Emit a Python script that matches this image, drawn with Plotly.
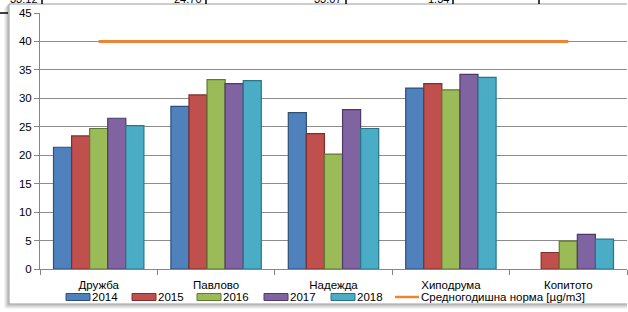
import plotly.graph_objects as go

# ---- data ----
categories = ["Дружба", "Павлово", "Надежда", "Хиподрума", "Копитото"]
years = ["2014", "2015", "2016", "2017", "2018"]
v2014 = [21.4, 28.6, 27.5, 31.8, None]
v2015 = [23.4, 30.6, 23.8, 32.6, 2.9]
v2016 = [24.7, 33.3, 20.2, 31.5, 4.9]
v2017 = [26.5, 32.6, 28.0, 34.2, 6.1]
v2018 = [25.2, 33.1, 24.7, 33.7, 5.25]
norm_name = "Средногодишна норма [µg/m3]"
norm_values = [40, 40, 40, 40, 40]
top_table_texts = ["33.12", "24.70", "33.07", "1.34"]

series = [v2014, v2015, v2016, v2017, v2018]
fill_colors = ["#4F81BD", "#C0504D", "#9BBB59", "#8064A2", "#4BACC6"]
edge_colors = ["#2E4F78", "#7E2E2C", "#5F7A33", "#4D3A68", "#2B7488"]
line_color = "#EE8433"

W, H = 628, 312
ML, MR, MT, MB = 40, 1, 13, 43
PW = W - ML - MR
PH = H - MT - MB


def px2x(px):
    return (px - ML) / PW


def px2y(py):
    return (H - MB - py) / PH


FONT = "Liberation Sans, Arial, sans-serif"

fig = go.Figure()
for name, vals, fc, ec in zip(years, series, fill_colors, edge_colors):
    fig.add_trace(go.Bar(
        x=categories, y=vals, name=name,
        marker=dict(color=fc, line=dict(color=ec, width=1.2)),
        showlegend=False,
    ))
fig.add_trace(go.Scatter(
    x=categories, y=norm_values, name=norm_name, mode="lines",
    line=dict(color=line_color, width=3), showlegend=False,
))

shapes = []
annotations = []


def hline(x0, x1, y, color, width):
    shapes.append(dict(type="line", xref="paper", yref="paper",
                       x0=px2x(x0), x1=px2x(x1), y0=px2y(y), y1=px2y(y),
                       line=dict(color=color, width=width), layer="below"))


def vline(x, y0, y1, color, width):
    shapes.append(dict(type="line", xref="paper", yref="paper",
                       x0=px2x(x), x1=px2x(x), y0=px2y(y0), y1=px2y(y1),
                       line=dict(color=color, width=width), layer="below"))


# chart frame with soft shadow (left and bottom)
for off, col in [(4, "#ececec"), (3, "#dcdcdc"), (2, "#c8c8c8"), (1, "#b0b0b0")]:
    vline(9 - off, 4 + off, 304 + off, col, 1.2)
    hline(9 - off, 627, 304 + off, col, 1.2)
vline(9, 4, 304, "#9a9a9a", 1)
hline(9, 627, 304, "#9a9a9a", 1)
hline(9, 627, 4, "#9a9a9a", 1)

# remnants of a table above the chart
shapes.append(dict(type="line", xref="paper", yref="paper",
                   x0=px2x(0), x1=px2x(8), y0=px2y(13), y1=px2y(13),
                   line=dict(color="#000000", width=1.5)))
table_right_edges = [42, 206, 346, 453, 539]
for xe in table_right_edges:
    shapes.append(dict(type="line", xref="paper", yref="paper",
                       x0=px2x(xe), x1=px2x(xe), y0=px2y(4), y1=px2y(0),
                       line=dict(color="#000000", width=1.5)))
for txt, xe in zip(top_table_texts, table_right_edges[:4]):
    annotations.append(dict(text=txt, xref="paper", yref="paper",
                            x=px2x(xe - 2), y=px2y(-1), xanchor="right", yanchor="middle",
                            showarrow=False, font=dict(family=FONT, size=11, color="#000")))

# manual legend
legend_y = 297
sym_x = [66, 132, 197, 264, 331]
for name, fc, ec, sx in zip(years, fill_colors, edge_colors, sym_x):
    shapes.append(dict(type="rect", xref="paper", yref="paper",
                       x0=px2x(sx), x1=px2x(sx + 24), y0=px2y(legend_y + 3.5), y1=px2y(legend_y - 3.5),
                       fillcolor=fc, line=dict(color=ec, width=1)))
    annotations.append(dict(text=name, xref="paper", yref="paper",
                            x=px2x(sx + 24), y=px2y(legend_y), xanchor="left", yanchor="middle",
                            showarrow=False, font=dict(family=FONT, size=11.5, color="#000")))
shapes.append(dict(type="line", xref="paper", yref="paper",
                   x0=px2x(395), x1=px2x(419), y0=px2y(legend_y), y1=px2y(legend_y),
                   line=dict(color=line_color, width=2.5)))
annotations.append(dict(text=norm_name, xref="paper", yref="paper",
                        x=px2x(419), y=px2y(legend_y), xanchor="left", yanchor="middle",
                        showarrow=False, font=dict(family=FONT, size=11.5, color="#000")))

fig.update_layout(
    width=W, height=H,
    margin=dict(l=ML, r=MR, t=MT, b=MB),
    paper_bgcolor="white", plot_bgcolor="white",
    barmode="group", bargap=0.23, bargroupgap=0,
    font=dict(family=FONT, size=11, color="#000"),
    shapes=shapes, annotations=annotations,
    showlegend=False,
    xaxis=dict(
        type="category", tickson="boundaries", ticks="outside", ticklen=5,
        tickcolor="#868686", showline=True, linecolor="#868686", linewidth=1,
        showgrid=False, ticklabelstandoff=5,
        tickfont=dict(family=FONT, size=11.5, color="#000"),
    ),
    yaxis=dict(
        range=[0, 45], dtick=5, ticks="outside", ticklen=5, tickcolor="#868686",
        showline=True, linecolor="#868686", linewidth=1,
        showgrid=True, gridcolor="#8c8c8c", gridwidth=1, zeroline=False,
        tickfont=dict(family=FONT, size=11.5, color="#000"),
    ),
)

fig.write_html(
    "out.html", config={"displayModeBar": False},
    post_script=(
        "document.documentElement.style.overflow='hidden';"
        "document.body.style.margin='0';document.body.style.overflow='hidden';"
    ),
)
